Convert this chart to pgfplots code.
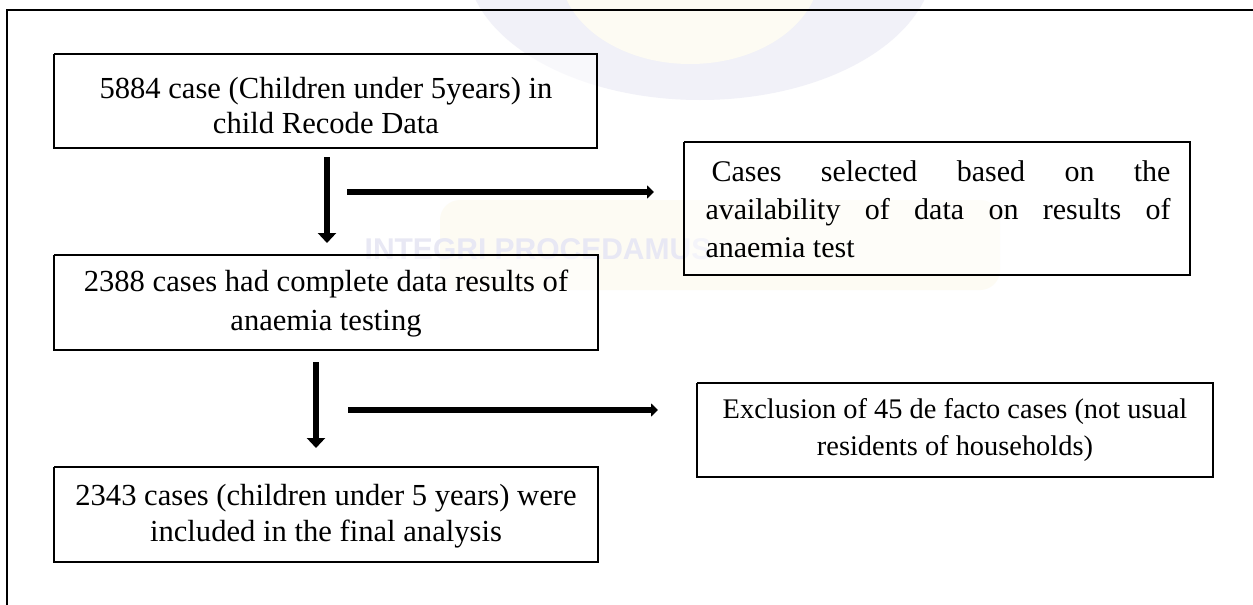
\documentclass[border=0pt]{standalone}
\usepackage{pgfplots}
\pgfplotsset{compat=1.18}
\usepackage{fontspec}
\setmainfont{Liberation Serif}
\newfontfamily\wmfont{Liberation Sans}
\usetikzlibrary{arrows.meta}
\definecolor{lav}{RGB}{241,241,248}
\definecolor{lavtxt}{RGB}{232,232,244}
\definecolor{wmy}{RGB}{253,251,243}
\begin{document}
\begin{tikzpicture}
\begin{axis}[
  scale only axis, width=626.5pt, height=302.5pt,
  xmin=0, xmax=1253, ymin=0, ymax=605, y dir=reverse,
  axis lines=none, clip=true,
]
% background
\addplot[draw=none, fill=white] coordinates {(0,0) (1253,0) (1253,605) (0,605) (0,0)};
% faint watermark
\fill[lav] (axis cs:700,-40) ellipse [x radius=117pt, y radius=70pt];
\fill[wmy] (axis cs:690,-30) ellipse [x radius=65pt, y radius=47pt];
\fill[wmy, rounded corners=10pt] (axis cs:440,200) rectangle (axis cs:1000,290);
\node[text=lavtxt, font=\wmfont\bfseries\fontsize{15}{15}\selectfont] at (axis cs:538,249) {INTEGRI PROCEDAMUS};
% frame
\addplot[line width=1.2pt, mark=none] coordinates {(1260,10) (7,10) (7,610)};
% boxes
\addplot[line width=1pt, mark=none, fill=white, fill opacity=0.55] coordinates {(54,54) (597,54) (597,148) (54,148) (54,54)};
\addplot[line width=1pt, mark=none, fill=white, fill opacity=0.55] coordinates {(684,142) (1190,142) (1190,275) (684,275) (684,142)};
\addplot[line width=1pt, mark=none, fill=white, fill opacity=0.55] coordinates {(54,255) (598,255) (598,350) (54,350) (54,255)};
\addplot[line width=1pt, mark=none] coordinates {(697,383) (1213,383) (1213,477) (697,477) (697,383)};
\addplot[line width=1pt, mark=none] coordinates {(54,467) (598,467) (598,562) (54,562) (54,467)};
% arrows
\addplot[line width=3.2pt, mark=none, -{Triangle[width=9pt,length=5pt]}] coordinates {(327,157) (327,243)};
\addplot[line width=3.2pt, mark=none, -{Triangle[width=6.5pt,length=3.5pt]}] coordinates {(347,192) (654,192)};
\addplot[line width=3.2pt, mark=none, -{Triangle[width=9pt,length=5pt]}] coordinates {(316,362) (316,448)};
\addplot[line width=3.2pt, mark=none, -{Triangle[width=6.5pt,length=3.5pt]}] coordinates {(348,410) (658,410)};
% texts
\node[font=\fontsize{15.3}{17.5}\selectfont, align=center] at (axis cs:326,106) {5884 case (Children under 5years) in\\child Recode Data};
\node[font=\fontsize{15}{19}\selectfont, align=left] at (axis cs:938,209) {\makebox[232.5pt][s]{\hspace{3pt}Cases selected based on the}\\\makebox[232.5pt][s]{availability of data on results of}\\\makebox[232.5pt][l]{anaemia test}};
\node[font=\fontsize{15.3}{19.5}\selectfont, align=center] at (axis cs:326,304) {2388 cases had complete data results of\\anaemia testing};
\node[font=\fontsize{14.2}{18.5}\selectfont, align=center] at (axis cs:955,430) {Exclusion of 45 de facto cases (not usual\\residents of households)};
\node[font=\fontsize{15.3}{18}\selectfont, align=center] at (axis cs:326,516) {2343 cases (children under 5 years) were\\included in the final analysis};
\end{axis}
\end{tikzpicture}
\end{document}
